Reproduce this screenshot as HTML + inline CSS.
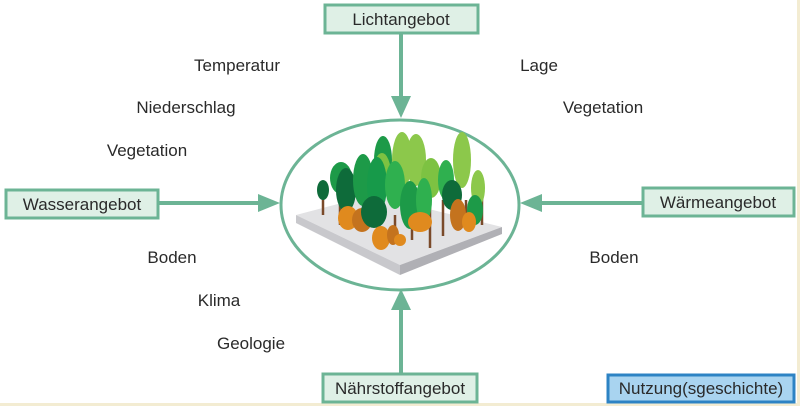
<!DOCTYPE html><html><head><style>body{margin:0;background:#fff}svg{display:block}text{font-family:"Liberation Sans",sans-serif;font-size:17px;fill:#2a2a2a}</style></head><body>
<svg width="800" height="406" viewBox="0 0 800 406">
<rect x="0" y="0" width="800" height="406" fill="#fff"/>
<line x1="798.5" y1="0" x2="798.5" y2="406" stroke="#f3ecd2" stroke-width="3"/>
<line x1="0" y1="404.5" x2="800" y2="404.5" stroke="#f3ecd2" stroke-width="3"/>
<g stroke="#6cb495" stroke-width="4" fill="none">
<ellipse cx="400" cy="205" rx="119" ry="85" stroke-width="3"/>
<line x1="401" y1="34" x2="401" y2="104"/>
<line x1="159" y1="203" x2="264" y2="203"/>
<line x1="642" y1="203" x2="536" y2="203"/>
<line x1="401" y1="373" x2="401" y2="304"/>
</g>
<g fill="#6cb495">
<polygon points="391,96 411,96 401,118"/>
<polygon points="258,194 258,212 280,203"/>
<polygon points="542,194 542,212 520,203"/>
<polygon points="391,310 411,310 401,289"/>
</g>
<g fill="#dff0e6" stroke="#6cb495" stroke-width="3">
<rect x="325" y="5" width="153" height="28"/>
<rect x="6" y="190" width="152" height="28"/>
<rect x="643" y="188" width="151" height="28"/>
<rect x="323" y="374" width="154" height="28"/>
</g>
<rect x="608" y="375" width="186" height="27" fill="#a9d4f0" stroke="#2d83c4" stroke-width="3"/>
<g text-anchor="middle">
<text x="401" y="25">Lichtangebot</text>
<text x="82" y="210">Wasserangebot</text>
<text x="718" y="208">Wärmeangebot</text>
<text x="400" y="394">Nährstoffangebot</text>
<text x="701" y="394">Nutzung(sgeschichte)</text>
<text x="237" y="71">Temperatur</text>
<text x="186" y="113">Niederschlag</text>
<text x="147" y="156">Vegetation</text>
<text x="539" y="71">Lage</text>
<text x="603" y="113">Vegetation</text>
<text x="172" y="263">Boden</text>
<text x="219" y="306">Klima</text>
<text x="251" y="349">Geologie</text>
<text x="614" y="263">Boden</text>
</g>
<polygon points="296,215 372,195 502,227 400,265" fill="#e2e2e4"/>
<polygon points="296,215 400,265 400,275 296,223" fill="#c8c8cc"/>
<polygon points="400,265 502,227 502,234 400,275" fill="#b0b0b5"/>
<g stroke="#7a4a2a" stroke-width="2.5">
<line x1="323" y1="195" x2="323" y2="215"/><line x1="340" y1="200" x2="340" y2="225"/>
<line x1="378" y1="210" x2="378" y2="245"/><line x1="412" y1="200" x2="412" y2="240"/>
<line x1="430" y1="205" x2="430" y2="248"/><line x1="443" y1="200" x2="443" y2="236"/>
<line x1="466" y1="200" x2="466" y2="230"/><line x1="482" y1="190" x2="482" y2="225"/>
<line x1="395" y1="215" x2="395" y2="240"/>
</g>
<g>
<ellipse cx="416" cy="160" rx="10" ry="26" fill="#8cc84b"/>
<ellipse cx="402" cy="160" rx="10" ry="28" fill="#8cc84b"/>
<ellipse cx="462" cy="160" rx="9" ry="28" fill="#8cc84b"/>
<ellipse cx="383" cy="160" rx="9" ry="24" fill="#1d9a48"/>
<ellipse cx="382" cy="175" rx="9" ry="22" fill="#7dc242"/>
<ellipse cx="341" cy="178" rx="11" ry="16" fill="#1d9a48"/>
<ellipse cx="346" cy="190" rx="10" ry="22" fill="#0e6b3a"/>
<ellipse cx="363" cy="180" rx="10" ry="26" fill="#1d9a48"/>
<ellipse cx="377" cy="185" rx="10" ry="28" fill="#179a4a"/>
<ellipse cx="395" cy="185" rx="10" ry="24" fill="#2fb04f"/>
<ellipse cx="431" cy="178" rx="10" ry="20" fill="#7dc242"/>
<ellipse cx="446" cy="180" rx="8" ry="20" fill="#2fb04f"/>
<ellipse cx="478" cy="188" rx="7" ry="18" fill="#8cc84b"/>
<ellipse cx="323" cy="190" rx="6" ry="10" fill="#0e6b3a"/>
<ellipse cx="410" cy="205" rx="10" ry="24" fill="#1d9a48"/>
<ellipse cx="424" cy="200" rx="8" ry="22" fill="#2fb04f"/>
<ellipse cx="452" cy="195" rx="10" ry="15" fill="#0e6b3a"/>
<ellipse cx="475" cy="210" rx="8" ry="15" fill="#1d9a48"/>
<ellipse cx="348" cy="218" rx="10" ry="12" fill="#e08a1e"/>
<ellipse cx="362" cy="220" rx="10" ry="12" fill="#c4731e"/>
<ellipse cx="374" cy="212" rx="13" ry="16" fill="#0e6b3a"/>
<ellipse cx="381" cy="238" rx="9" ry="12" fill="#e08a1e"/>
<ellipse cx="393" cy="235" rx="6" ry="10" fill="#c4731e"/>
<ellipse cx="400" cy="240" rx="6" ry="6" fill="#e08a1e"/>
<ellipse cx="420" cy="222" rx="12" ry="10" fill="#e08a1e"/>
<ellipse cx="458" cy="215" rx="8" ry="16" fill="#c4731e"/>
<ellipse cx="469" cy="222" rx="7" ry="10" fill="#e08a1e"/>
</g>
</svg></body></html>
